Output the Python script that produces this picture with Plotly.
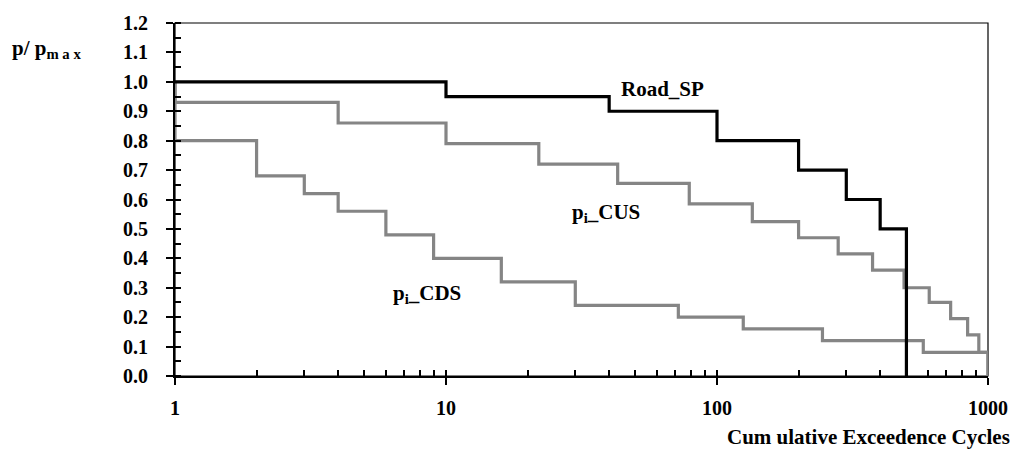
import plotly.graph_objects as go

# Data
road_x = [1, 10, 40, 100, 200, 300, 400, 500]
road_y = [1.0, 0.95, 0.90, 0.80, 0.70, 0.60, 0.50, 0.0]

cus_x = [1, 1, 4, 10, 22, 43, 79, 135, 200, 280, 375, 490, 607, 728, 841, 925, 1000]
cus_y = [1.0, 0.93, 0.86, 0.79, 0.72, 0.655, 0.585, 0.525, 0.47, 0.415, 0.36, 0.30,
         0.25, 0.195, 0.14, 0.08, 0.0]

cds_x = [1, 1, 2, 3, 4, 6, 9, 16, 30, 72, 125, 245, 577, 1000]
cds_y = [1.0, 0.80, 0.68, 0.62, 0.56, 0.48, 0.40, 0.32, 0.24, 0.20, 0.16, 0.12, 0.08, 0.0]

x_tickvals = [1, 10, 100, 1000]
x_ticktext = ["1", "10", "100", "1000"]
x_minor = [2, 3, 4, 5, 6, 7, 8, 9, 20, 30, 40, 50, 60, 70, 80, 90,
           200, 300, 400, 500, 600, 700, 800, 900]

FONT = "Liberation Serif"
GRAY = "#858585"

fig = go.Figure()
fig.add_trace(go.Scatter(x=cds_x, y=cds_y, mode="lines", line=dict(color=GRAY, width=3.2, shape="hv"),
                         showlegend=False, hoverinfo="skip"))
fig.add_trace(go.Scatter(x=cus_x, y=cus_y, mode="lines", line=dict(color=GRAY, width=3.2, shape="hv"),
                         showlegend=False, hoverinfo="skip"))
fig.add_trace(go.Scatter(x=road_x, y=road_y, mode="lines", line=dict(color="black", width=3.2, shape="hv"),
                         showlegend=False, hoverinfo="skip"))
# invisible trace carrying the overlay axes (inner half of crossing major ticks)
fig.add_trace(go.Scatter(x=[1], y=[0], xaxis="x2", yaxis="y2", mode="markers",
                         marker=dict(opacity=0), showlegend=False, hoverinfo="skip"))

fig.update_layout(
    width=1021, height=450,
    margin=dict(l=175, r=33, t=23, b=74),
    paper_bgcolor="white", plot_bgcolor="white",
    font=dict(family=FONT, color="black"),
    xaxis=dict(type="log", range=[0, 3], tickvals=x_tickvals, ticktext=x_ticktext,
               showgrid=False, zeroline=False, showline=True, linecolor="black", linewidth=2,
               ticks="outside", ticklen=7, tickwidth=2, tickcolor="black",
               ticklabelstandoff=6,
               tickfont=dict(family=FONT, size=20, color="black", weight="bold"),
               minor=dict(ticks="inside", ticklen=6, tickwidth=1.5, tickcolor="black",
                          tickvals=x_minor, showgrid=False)),
    yaxis=dict(range=[0, 1.2], dtick=0.1, tickformat=".1f",
               showgrid=False, zeroline=False, showline=True, linecolor="black", linewidth=2,
               ticks="outside", ticklen=7, tickwidth=2, tickcolor="black",
               ticklabelstandoff=14,
               tickfont=dict(family=FONT, size=20, color="black", weight="bold"),
               minor=dict(ticks="inside", ticklen=6, tickwidth=1.5, tickcolor="black",
                          dtick=0.05, showgrid=False)),
    xaxis2=dict(type="log", range=[0, 3], overlaying="x", anchor="y2", tickvals=x_tickvals,
                showticklabels=False, showgrid=False, zeroline=False, showline=False,
                ticks="inside", ticklen=6, tickwidth=2, tickcolor="black"),
    yaxis2=dict(range=[0, 1.2], dtick=0.1, overlaying="y", anchor="x2", side="left",
                showticklabels=False, showgrid=False, zeroline=False, showline=False,
                ticks="inside", ticklen=6, tickwidth=2, tickcolor="black"),
    shapes=[dict(type="rect", xref="paper", yref="paper", x0=0, x1=1, y0=0, y1=1,
                 line=dict(color="black", width=1.2), layer="below")],
)

ann_font = dict(family=FONT, size=21, color="black", weight="bold")
fig.add_annotation(x=1.80, y=0.975, xref="x", yref="y", text="Road_SP", showarrow=False,
                   font=ann_font, xanchor="center", yanchor="middle")
fig.add_annotation(x=1.59, y=0.555, xref="x", yref="y", text="p<sub>i</sub>_CUS", showarrow=False,
                   font=ann_font, xanchor="center", yanchor="middle")
fig.add_annotation(x=0.93, y=0.28, xref="x", yref="y", text="p<sub>i</sub>_CDS", showarrow=False,
                   font=ann_font, xanchor="center", yanchor="middle")

# axis titles
fig.add_annotation(x=-0.203, y=0.925, xref="paper", yref="paper", text="p/ p<sub>m a x</sub>",
                   showarrow=False, font=ann_font, xanchor="left", yanchor="middle")
fig.add_annotation(x=1.03, y=-0.172, xref="paper", yref="paper",
                   text="Cum ulative Exceedence Cycles", showarrow=False,
                   font=dict(family=FONT, size=21, color="black", weight="bold"),
                   xanchor="right", yanchor="middle")

fig.write_html("out.html", config={"displayModeBar": False},
               post_script="document.body.style.margin='0px';")
